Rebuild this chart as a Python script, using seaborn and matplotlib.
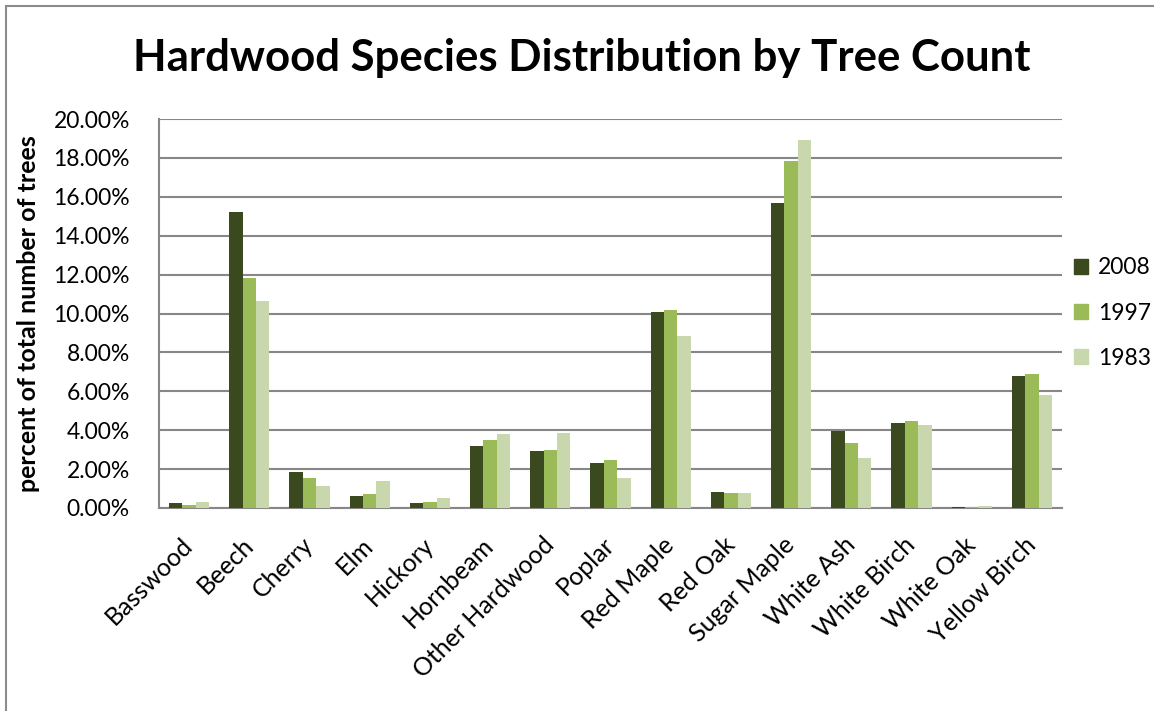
"""Hardwood species distribution by tree count — grouped bars, Excel look"""

import matplotlib
matplotlib.use("Agg")
import matplotlib.pyplot as plt
from matplotlib.lines import Line2D
from matplotlib.ticker import FuncFormatter, MultipleLocator
import pandas as pd
import seaborn as sns

species = ["Basswood", "Beech", "Cherry", "Elm", "Hickory", "Hornbeam", "Other Hardwood",
           "Poplar", "Red Maple", "Red Oak", "Sugar Maple", "White Ash", "White Birch",
           "White Oak", "Yellow Birch"]
years = ["2008", "1997", "1983"]

# percent of total number of trees
pct_2008 = [0.24, 15.23, 1.86, 0.63, 0.27, 3.17, 2.94, 2.31, 10.08, 0.84, 15.67, 3.97, 4.35, 0.07, 6.78]
pct_1997 = [0.15, 11.82, 1.52, 0.74, 0.31, 3.52, 2.99, 2.48, 10.18, 0.79, 17.83, 3.34, 4.45, 0.05, 6.90]
pct_1983 = [0.31, 10.62, 1.13, 1.37, 0.53, 3.82, 3.88, 1.52, 8.86, 0.79, 18.94, 2.57, 4.26, 0.12, 5.82]

COLORS = {"2008": "#3B4A1E", "1997": "#9BBB59", "1983": "#C8D7AC"}
GRID = "#878787"

df = pd.concat([
    pd.DataFrame({"species": species, "year": y, "pct": v})
    for y, v in zip(years, [pct_2008, pct_1997, pct_1983])
])

sns.set_style("white")
plt.rcParams["font.family"] = ["Lato", "DejaVu Sans"]
plt.rcParams.update({"text.color": "black", "xtick.color": "black", "ytick.color": "black",
                     "axes.labelcolor": "black"})

fig = plt.figure(figsize=(11.54, 7.11), dpi=100)
ax = fig.add_axes([159 / 1154, 1 - 508 / 711, 903 / 1154, 389 / 711])

sns.barplot(data=df, x="species", y="pct", hue="year", hue_order=years, order=species,
            palette=COLORS, width=0.67, gap=0, saturation=1, linewidth=0, ax=ax, zorder=3)

ax.set_xlim(-0.5, len(species) - 0.5)
ax.set_ylim(0, 20)
ax.yaxis.set_major_locator(MultipleLocator(2))
ax.yaxis.set_major_formatter(FuncFormatter(lambda v, _: f"{v:.2f}%"))
ax.grid(axis="y", color=GRID, linewidth=1.5, zorder=0)
ax.set_axisbelow(True)

for side in ["top", "right"]:
    ax.spines[side].set_visible(False)
for side in ["left", "bottom"]:
    ax.spines[side].set_color(GRID)
    ax.spines[side].set_linewidth(1.5)

# Excel-style tick marks between categories
ax.set_xticks([i - 0.5 for i in range(len(species) + 1)], minor=True)
ax.tick_params(axis="x", which="major", length=0, pad=24, labelsize=18)
ax.tick_params(axis="x", which="minor", length=6, width=1.5, color=GRID, direction="out")
ax.tick_params(axis="y", length=8, width=1.5, color=GRID, labelcolor="black", labelsize=16.5, pad=13)
plt.setp(ax.get_xticklabels(), rotation=45, ha="right", va="center", rotation_mode="anchor")

ax.set_xlabel("")
ax.set_ylabel("percent of total number of trees", fontsize=18, fontweight="bold")
ax.yaxis.set_label_coords(-0.132, 0.5)

fig.text(0.504, 0.918, "Hardwood Species Distribution by Tree Count",
         fontsize=31.5, fontweight="bold", ha="center", va="center")

handles = [plt.Rectangle((0, 0), 1, 1, color=COLORS[y]) for y in years]
ax.legend(handles, years, loc="center left", bbox_to_anchor=(1074 / 1154, 1 - 313 / 711),
          bbox_transform=fig.transFigure, frameon=False, fontsize=16.5, borderpad=0, borderaxespad=0,
          handlelength=0.6, handleheight=0.6, handletextpad=0.45, labelspacing=1.05)

# chart border (left and top edges visible in the reference)
fig.add_artist(Line2D([6 / 1154, 6 / 1154], [0, 1 - 6 / 711], transform=fig.transFigure, color="#8c8c8c", lw=1.5))
fig.add_artist(Line2D([6 / 1154, 1], [1 - 6 / 711, 1 - 6 / 711], transform=fig.transFigure, color="#8c8c8c", lw=1.5))

fig.savefig("out.png", dpi=100, facecolor="white")
